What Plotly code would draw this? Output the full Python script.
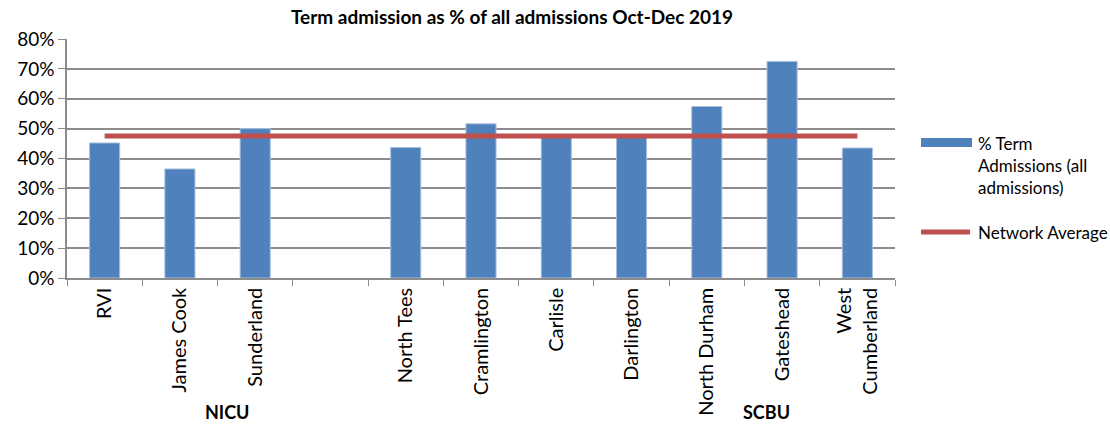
import plotly.graph_objects as go

# Units and their term-admission share (Oct-Dec 2019)
units = ["RVI", "James Cook", "Sunderland", " ", "North Tees", "Cramlington",
         "Carlisle", "Darlington", "North Durham", "Gateshead", "West<br>Cumberland"]
term_share = [0.452, 0.365, 0.50, None, 0.437, 0.516, 0.478, 0.476, 0.574, 0.725, 0.435]
network_average = 0.475
groups = ["NICU", "SCBU"]

W, H = 1110, 426
L, R, T, B = 67, 895, 39, 278  # plot area in pixels

BLUE = "#4F81BD"
RED = "#C0504D"
GRID = "#8C8C8C"
FONT = "Lato"


def px(x):
    return (x - L) / (R - L)


def py(y):
    return (B - y) / (B - T)


fig = go.Figure()
fig.add_trace(go.Bar(x=units, y=term_share, marker=dict(color=BLUE, line=dict(color="#A7C0DE", width=1)),
                     width=0.4, showlegend=False))
fig.add_trace(go.Scatter(x=units, y=[network_average] * len(units), mode="lines",
                         line=dict(color=RED, width=5), showlegend=False))

fig.update_layout(
    width=W, height=H,
    margin=dict(l=L, r=W - R, t=T, b=H - B, autoexpand=False),
    plot_bgcolor="white", paper_bgcolor="white",
    font=dict(family=FONT, color="black"),
    title=dict(text="<b>Term admission as % of all admissions Oct-Dec 2019</b>",
               x=px(512), xref="paper", xanchor="center", y=1 - 17 / H, yanchor="middle",
               font=dict(size=19)),
    bargap=0.6,
)
fig.update_xaxes(type="category", categoryorder="array", categoryarray=units,
                 tickangle=-90, tickson="boundaries", ticks="outside", ticklen=6,
                 tickcolor=GRID, showline=True, linecolor=GRID, linewidth=1.5,
                 showgrid=False, tickfont=dict(size=20, family=FONT))
fig.update_yaxes(range=[0, 0.8], dtick=0.1, tickformat=".0%", ticks="outside", ticklen=7,
                 tickcolor=GRID, showline=True, linecolor=GRID, linewidth=1.5,
                 showgrid=True, gridcolor=GRID, gridwidth=1.5, zeroline=False,
                 tickfont=dict(size=19, family=FONT))

# group labels under the category axis
for name, gx in zip(groups, [227, 766]):
    fig.add_annotation(text=f"<b>{name}</b>", xref="paper", yref="paper", x=px(gx), y=py(424),
                       showarrow=False, xanchor="center", yanchor="bottom", font=dict(size=18),
                       borderpad=0)

# legend
fig.add_shape(type="rect", xref="paper", yref="paper", x0=px(921), x1=px(972), y0=py(138), y1=py(147),
              fillcolor=BLUE, line=dict(width=0))
fig.add_shape(type="line", xref="paper", yref="paper", x0=px(921), x1=px(970), y0=py(232), y1=py(232),
              line=dict(color=RED, width=5))
fig.add_annotation(text="% Term<br>Admissions (all<br>admissions)", xref="paper", yref="paper",
                   x=px(976), y=py(131), xanchor="left", yanchor="top", align="left",
                   showarrow=False, font=dict(size=17))
fig.add_annotation(text="Network Average", xref="paper", yref="paper",
                   x=px(976), y=py(232), xanchor="left", yanchor="middle", align="left",
                   showarrow=False, font=dict(size=17))

fig.write_html("out.html")
